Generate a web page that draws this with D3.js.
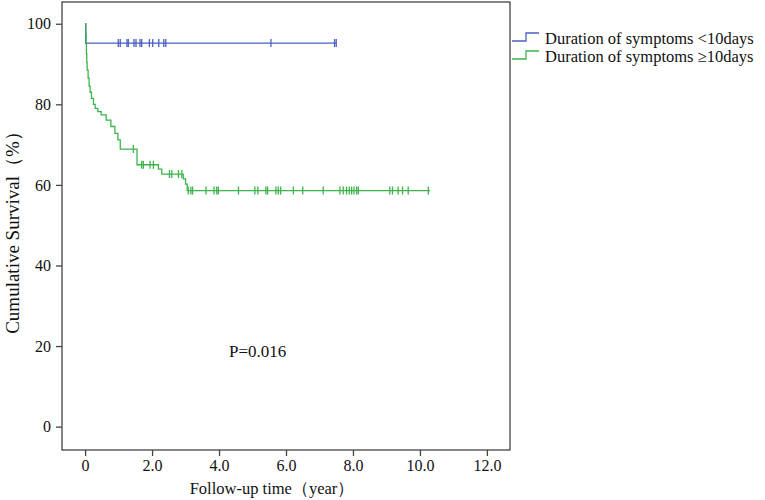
<!DOCTYPE html>
<html lang="en">
<head>
<meta charset="UTF-8">
<script src="https://d3js.org/d3.v7.min.js"></script>
<style>
body { margin: 0; background: #fff; }
text { font-family: "Liberation Serif", "Times New Roman", serif; fill: #111; }
</style>
</head>
<body>
<div class="canva"></div>
<script>
// group 1: duration of symptoms <10 days
const shortTimes = [0, 0.02];
const shortSurv = [100, 95.2];
const shortEnd = 7.5;
const shortCensor = [0.99, 1.05, 1.25, 1.29, 1.46, 1.52, 1.64, 1.69, 1.92, 2.02, 2.20, 2.35, 2.41, 5.55, 7.45, 7.5];

// group 2: duration of symptoms >=10 days
const longTimes = [0, 0.02, 0.03, 0.04, 0.05, 0.06, 0.09, 0.12, 0.15, 0.19, 0.25, 0.30, 0.38, 0.48, 0.63, 0.77, 0.89, 0.98, 1.05, 1.55, 2.19, 2.29, 2.93, 3.00, 3.05];
const longSurv = [100, 97.5, 95, 92.5, 90.5, 88.5, 86.5, 84.5, 83, 81.5, 80, 79, 78.2, 77.4, 76.1, 74.5, 72.8, 71.2, 68.9, 65.0, 63.9, 62.7, 61.5, 60.2, 58.6];
const longEnd = 10.3;
const longCensor = [1.44, 1.69, 1.74, 1.94, 2.04, 2.52, 2.59, 2.79, 2.89, 3.08, 3.16, 3.21, 3.61, 3.85, 3.93, 3.98, 4.58, 5.07, 5.16, 5.40, 5.45, 5.70, 5.77, 5.84, 6.22, 6.50, 7.11, 7.61, 7.71, 7.81, 7.89, 7.96, 8.03, 8.11, 8.16, 9.10, 9.18, 9.35, 9.48, 9.65, 10.25];

const xTicks = [0, 2, 4, 6, 8, 10, 12];
const yTicks = [0, 20, 40, 60, 80, 100];
const groupNames = ["Duration of symptoms <10days", "Duration of symptoms \u226510days"];
const groupColors = ["#4a5fc2", "#3cb44b"];

const width = 765, height = 500;

const svg = d3.select(".canva").append("svg")
  .attr("width", width)
  .attr("height", height);

const x = d3.scaleLinear().domain([-0.69, 12.69]).range([62, 510]);
const y = d3.scaleLinear().domain([-5.8, 105.4]).range([450, 2]);

// plot frame
svg.append("rect")
  .attr("x", x.range()[0])
  .attr("y", y.range()[1])
  .attr("width", x.range()[1] - x.range()[0])
  .attr("height", y.range()[0] - y.range()[1])
  .attr("fill", "none")
  .attr("stroke", "#444")
  .attr("stroke-width", 1.3);

const xAxis = svg.append("g")
  .attr("transform", `translate(0, ${y.range()[0]})`)
  .call(d3.axisBottom(x).tickValues(xTicks).tickSize(6).tickPadding(4)
    .tickFormat(d => d === 0 ? "0" : d3.format(".1f")(d)));

const yAxis = svg.append("g")
  .attr("transform", `translate(${x.range()[0]}, 0)`)
  .call(d3.axisLeft(y).tickValues(yTicks).tickSize(6).tickPadding(5));

[xAxis, yAxis].forEach(a => {
  a.select(".domain").remove();
  a.selectAll(".tick line").attr("stroke", "#444").attr("stroke-width", 1.3);
  a.selectAll(".tick text")
    .style("font-family", "'Liberation Serif', 'Times New Roman', serif")
    .style("font-size", "16px")
    .attr("fill", "#111");
});

// axis titles
svg.append("text")
  .attr("x", 272)
  .attr("y", 494)
  .attr("text-anchor", "middle")
  .style("font-size", "16.5px")
  .text("Follow-up time（year）");

svg.append("text")
  .attr("transform", "translate(19, 228) rotate(-90)")
  .attr("text-anchor", "middle")
  .style("font-size", "19px")
  .text("Cumulative Survival（%）");

svg.append("text")
  .attr("x", 229)
  .attr("y", 357)
  .style("font-size", "17px")
  .text("P=0.016");

// survival curves
const line = d3.line()
  .x(d => x(d[0]))
  .y(d => y(d[1]))
  .curve(d3.curveStepAfter);

function stepValue(times, surv, t) {
  const i = d3.bisectRight(times, t) - 1;
  return surv[Math.max(0, i)];
}

const groups = [
  { times: shortTimes, surv: shortSurv, end: shortEnd, censor: shortCensor },
  { times: longTimes, surv: longSurv, end: longEnd, censor: longCensor }
];

groups.forEach((g, k) => {
  const pts = g.times.map((t, i) => [t, g.surv[i]]);
  pts.push([g.end, g.surv[g.surv.length - 1]]);

  svg.append("path")
    .attr("d", line(pts))
    .attr("fill", "none")
    .attr("stroke", groupColors[k])
    .attr("stroke-width", 1.3);

  svg.selectAll(".c" + k)
    .data(g.censor)
    .enter()
    .append("line")
    .attr("class", "c" + k)
    .attr("x1", d => x(d))
    .attr("x2", d => x(d))
    .attr("y1", d => y(stepValue(g.times, g.surv, d)) - 4)
    .attr("y2", d => y(stepValue(g.times, g.surv, d)) + 4)
    .attr("stroke", groupColors[k])
    .attr("stroke-width", 1.3);
});

// legend
groupNames.forEach((name, i) => {
  const ly = 41 + i * 18;
  svg.append("path")
    .attr("d", `M512,${ly} H526 V${ly - 8} H539`)
    .attr("fill", "none")
    .attr("stroke", groupColors[i])
    .attr("stroke-width", 1.3);
  svg.append("text")
    .attr("x", 545)
    .attr("y", ly + 3)
    .style("font-size", "16.5px")
    .text(name);
});
</script>
</body>
</html>
